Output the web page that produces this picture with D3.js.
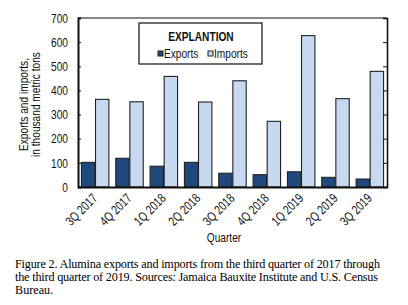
<!DOCTYPE html>
<html>
<head>
<meta charset="utf-8">
<script src="https://cdn.jsdelivr.net/npm/d3@7"></script>
<style>
  body { margin: 0; background: #fff; }
  svg text { font-family: "Liberation Sans", Arial, sans-serif; }
</style>
</head>
<body>
<div id="chart"></div>
<script>
var w = 408, h = 305;
var border = { top: 18, bottom: 118, left: 78, right: 21 };

var quarters = ['3Q 2017', '4Q 2017', '1Q 2018', '2Q 2018', '3Q 2018', '4Q 2018', '1Q 2019', '2Q 2019', '3Q 2019'];
var exportsT = [102, 119, 86, 102, 57, 51, 63, 40, 33];
var importsT = [363, 353, 458, 352, 440, 272, 627, 366, 479];
var yTicks = [0, 100, 200, 300, 400, 500, 600, 700];
var seriesNames = ['Exports', 'Imports'];
var colors = ['#1f497d', '#c6d9f1'];

// squeeze text to look like Arial Narrow
function condense(sel, k) {
  sel.each(function () {
    var len = this.getComputedTextLength();
    d3.select(this).attr('textLength', len * k).attr('lengthAdjust', 'spacingAndGlyphs');
  });
}

const svg = d3.select('#chart')
  .append('svg')
  .attr('width', w)
  .attr('height', h);

var x = d3.scaleBand()
  .domain(quarters)
  .range([border.left, w - border.right])
  .paddingInner(0.2)
  .paddingOuter(0.1);

var xs = d3.scaleBand()
  .domain(seriesNames)
  .range([0, x.bandwidth()])
  .paddingInner(0.05);

var y = d3.scaleLinear()
  .domain([0, 700])
  .range([h - border.bottom, border.top]);

// bars
var rows = quarters.map((q, i) => ({ q: q, vals: [exportsT[i], importsT[i]] }));
var groups = svg.selectAll('g.grp')
  .data(rows)
  .enter()
  .append('g')
  .attr('class', 'grp')
  .attr('transform', d => `translate(${x(d.q)},0)`);

groups.selectAll('rect')
  .data(d => d.vals.map((v, k) => ({ k: k, v: v })))
  .enter()
  .append('rect')
  .attr('x', d => xs(seriesNames[d.k]))
  .attr('width', xs.bandwidth())
  .attr('y', d => y(d.v))
  .attr('height', d => y(0) - y(d.v))
  .attr('fill', d => colors[d.k])
  .attr('stroke', '#222')
  .attr('stroke-width', 1.1);

// top frame line
svg.append('line')
  .attr('x1', border.left).attr('x2', w - border.right)
  .attr('y1', border.top).attr('y2', border.top)
  .attr('stroke', '#111').attr('stroke-width', 1.2);

// left axis, ticks pointing in
var yAxisL = svg.append('g')
  .attr('transform', `translate(${border.left},0)`)
  .call(d3.axisLeft(y).tickValues(yTicks).tickSize(-3).tickPadding(10));
yAxisL.select('.domain').attr('stroke', '#111').attr('stroke-width', 2);
yAxisL.selectAll('.tick line').attr('stroke', '#111');
yAxisL.selectAll('text').attr('font-size', 13).attr('fill', '#111')
  .attr('font-family', '"Liberation Sans", Arial, sans-serif')
  .call(condense, 0.78);

// right axis, ticks pointing in, no labels
var yAxisR = svg.append('g')
  .attr('transform', `translate(${w - border.right},0)`)
  .call(d3.axisRight(y).tickValues(yTicks).tickSize(-4).tickFormat(''));
yAxisR.select('.domain').attr('stroke', '#111').attr('stroke-width', 1.6);
yAxisR.selectAll('.tick line').attr('stroke', '#111');

// bottom axis
var xAxis = svg.append('g')
  .attr('transform', `translate(0,${h - border.bottom})`)
  .call(d3.axisBottom(x).tickSize(0).tickPadding(0));
xAxis.select('.domain').attr('stroke', '#111').attr('stroke-width', 2);
xAxis.selectAll('text')
  .attr('font-size', 13)
  .attr('fill', '#111')
  .attr('font-family', '"Liberation Sans", Arial, sans-serif')
  .attr('text-anchor', 'end')
  .attr('dy', null)
  .attr('y', 0)
  .attr('transform', 'translate(3,12) rotate(-45)')
  .call(condense, 0.78);

// axis titles
var yTitle = svg.append('text')
  .attr('transform', `translate(28,${(border.top + h - border.bottom) / 2 + 2}) rotate(-90)`)
  .attr('text-anchor', 'middle')
  .attr('font-size', 13)
  .attr('fill', '#111');
yTitle.append('tspan').attr('x', 0).attr('dy', 0).text('Exports and imports,');
yTitle.append('tspan').attr('x', 0).attr('dy', 12).text('in thousand metric tons');
yTitle.selectAll('tspan').call(condense, 0.78);

svg.append('text')
  .attr('x', 224)
  .attr('y', 242)
  .attr('text-anchor', 'middle')
  .attr('font-size', 13)
  .attr('fill', '#111')
  .text('Quarter')
  .call(condense, 0.78);

// legend
var lg = svg.append('g').attr('transform', 'translate(139,23)');
lg.append('rect')
  .attr('width', 123).attr('height', 41)
  .attr('fill', '#fff').attr('stroke', '#222').attr('stroke-width', 1.3);
lg.append('text')
  .attr('x', 62).attr('y', 18)
  .attr('text-anchor', 'middle')
  .attr('font-size', 13).attr('font-weight', 'bold')
  .attr('fill', '#111')
  .text('EXPLANTION')
  .call(condense, 0.78);
var lgx = [19, 69];
seriesNames.forEach((s, i) => {
  lg.append('rect')
    .attr('x', lgx[i]).attr('y', 28)
    .attr('width', 5).attr('height', 5)
    .attr('fill', colors[i]).attr('stroke', '#222').attr('stroke-width', 1);
  lg.append('text')
    .attr('x', lgx[i] + 6).attr('y', 34.5)
    .attr('font-size', 13).attr('fill', '#111')
    .text(s)
    .call(condense, 0.78);
});

// caption, justified lines like the original
var captionLines = [
  'Figure 2. Alumina exports and imports from the third quarter of 2017 through',
  'the third quarter of 2019. Sources: Jamaica Bauxite Institute and U.S. Census',
  'Bureau.'
];
var captionWidths = [365, 363, null];
svg.selectAll('text.cap')
  .data(captionLines)
  .enter()
  .append('text')
  .attr('class', 'cap')
  .attr('x', 15)
  .attr('y', (d, i) => 268 + i * 13)
  .style('font-family', '"Liberation Serif", "Times New Roman", serif')
  .style('font-size', '12.2px')
  .attr('fill', '#000')
  .attr('textLength', (d, i) => captionWidths[i])
  .attr('lengthAdjust', 'spacing')
  .text(d => d);
</script>
</body>
</html>
